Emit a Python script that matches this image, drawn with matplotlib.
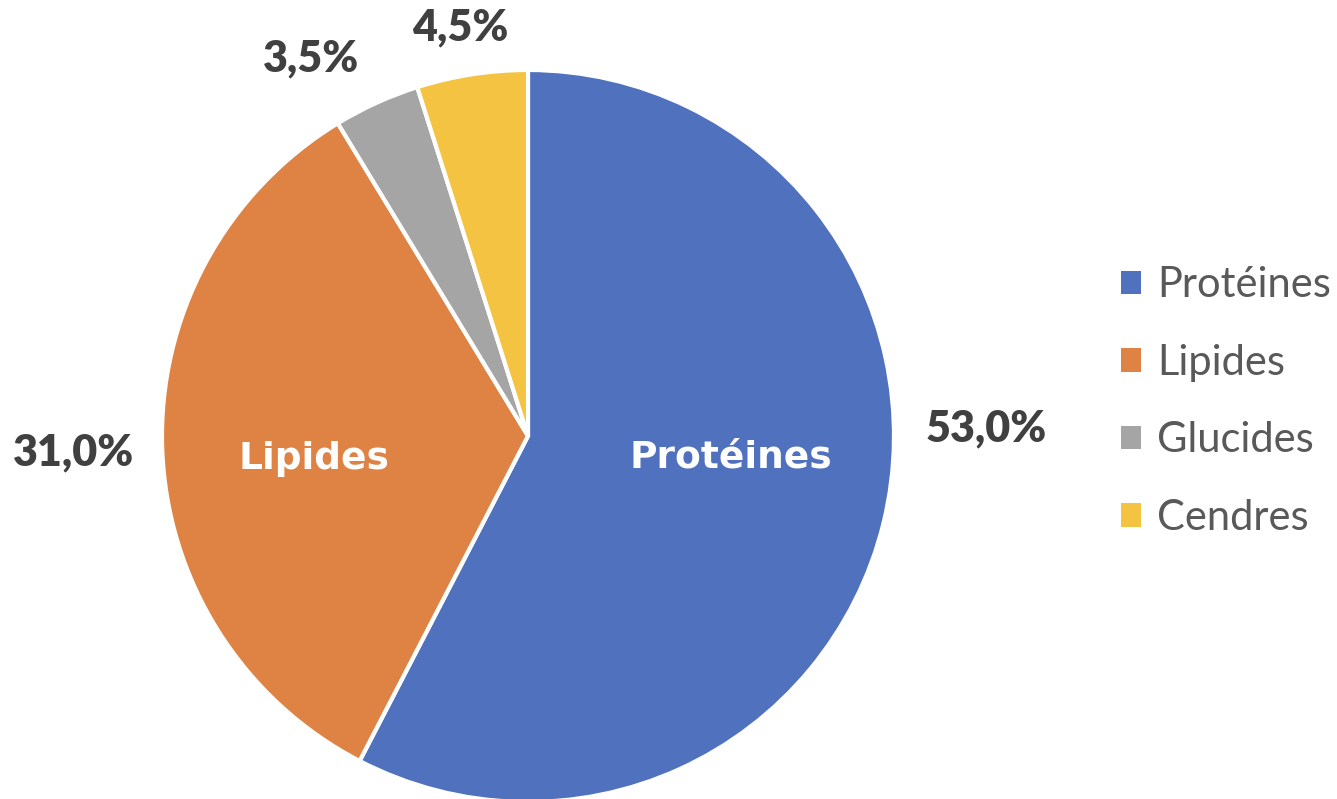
import matplotlib.pyplot as plt
from matplotlib.patches import Patch

# Data
categories = ['Protéines', 'Lipides', 'Glucides', 'Cendres']
values = [53.0, 31.0, 3.5, 4.5]
pct_labels = ['53,0%', '31,0%', '3,5%', '4,5%']
colors = ['#4F71BE', '#DE8344', '#A5A5A5', '#F5C342']

# label baselines (pie radius = 1)
pct_pos = [(1.251, -0.016), (-1.242, -0.079), (-0.592, 0.995), (-0.184, 1.082)]
inner_pos = [(0.555, -0.085), (-0.585, -0.089)]

plt.rcParams['font.family'] = ['Lato', 'DejaVu Sans']

fig = plt.figure(figsize=(13.37, 7.99), dpi=100)
W, H = 1337, 799
cx, cy, r = 528, 436, 366
ax = fig.add_axes([(cx - r) / W, (H - cy - r) / H, 2 * r / W, 2 * r / H])
ax.axis('off')

wedges, _ = ax.pie(values, colors=colors, startangle=90, counterclock=False,
                   radius=1, wedgeprops=dict(edgecolor='white', linewidth=3))
ax.set_xlim(-1, 1)
ax.set_ylim(-1, 1)

for lab, (x, y) in zip(pct_labels, pct_pos):
    ax.text(x, y, lab, ha='center', va='baseline', fontsize=31,
            fontweight='heavy', color='#404040', clip_on=False)

for lab, (x, y) in zip(categories[:2], inner_pos):
    ax.text(x, y, lab, ha='center', va='baseline', fontsize=27,
            fontweight='bold', color='white', family='DejaVu Sans')

handles = [Patch(facecolor=c, edgecolor='none') for c in colors]
fig.legend(handles, categories, loc='center left',
           bbox_to_anchor=(1121 / W, 1 - 401.5 / H), frameon=False,
           fontsize=30, labelcolor='#595959', handlelength=0.48,
           handleheight=0.48, handletextpad=0.38, labelspacing=0.95,
           borderpad=0, borderaxespad=0)

plt.savefig('out.png', dpi=100)
